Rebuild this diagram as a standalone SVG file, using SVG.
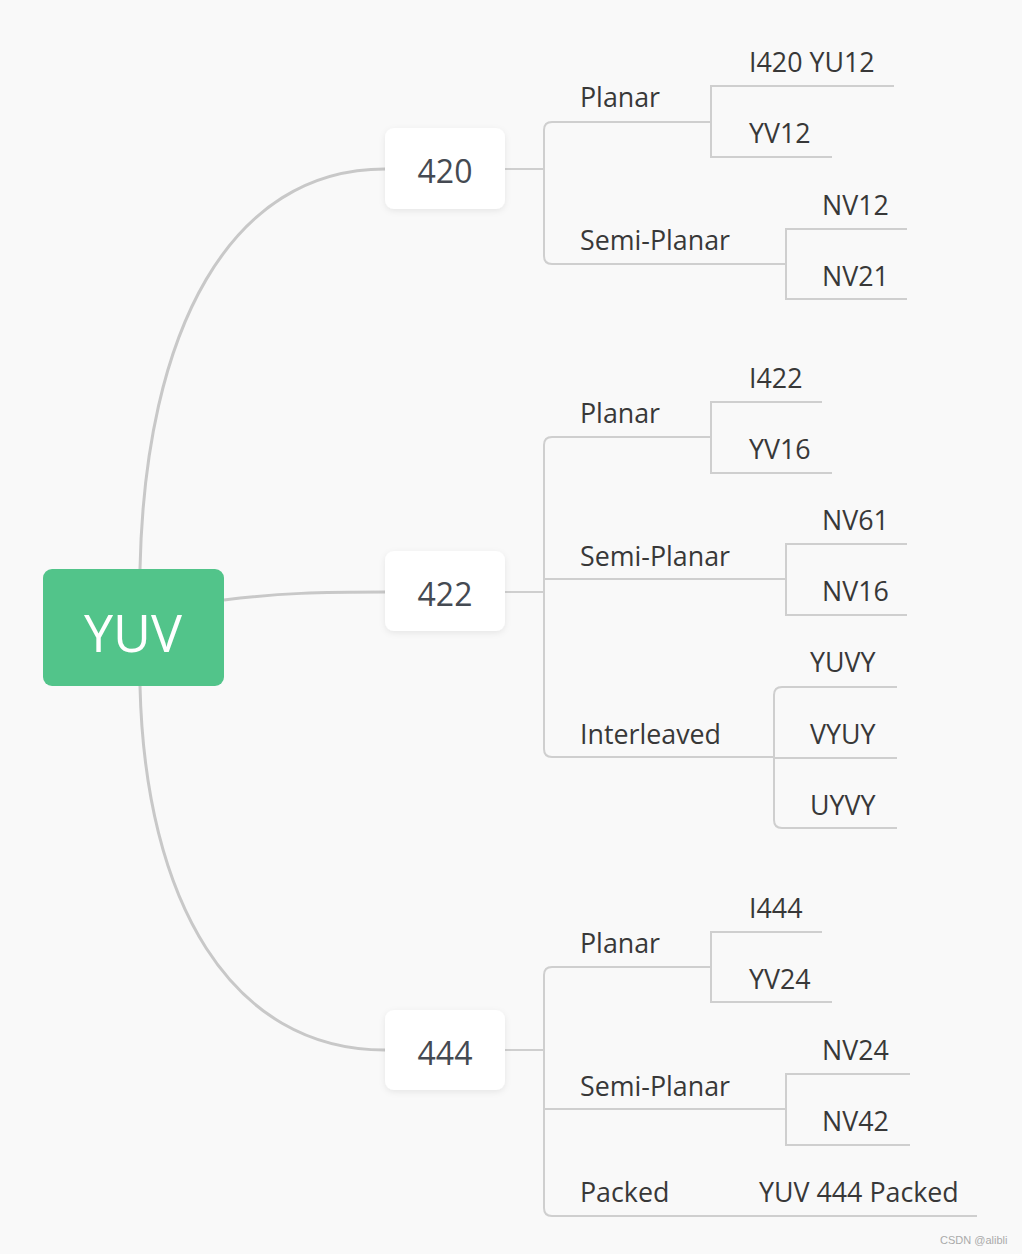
<svg xmlns="http://www.w3.org/2000/svg" width="1022" height="1254" viewBox="0 0 1022 1254">
<style>
.bg{fill:#f9f9f9}
.main{stroke:#c8c8c8;stroke-width:3;fill:none}
.br{stroke:#cfcfcf;stroke-width:2;fill:none}
.box{fill:#ffffff}
.root{fill:#52c48a}
.t{font-family:"Open Sans","Noto Sans",sans-serif;font-size:26.8px;fill:#383838}
.n{font-family:"Open Sans","Noto Sans",sans-serif;font-size:32px;fill:#454a52;text-anchor:middle}
.r{font-family:"Open Sans","Noto Sans",sans-serif;font-size:52px;fill:#ffffff;text-anchor:middle}
.wm{font-family:"Liberation Sans",sans-serif;font-size:11px;fill:#aaaaaa}
</style>
<defs>
<filter id="sh" x="-20%" y="-20%" width="140%" height="150%">
<feDropShadow dx="0" dy="2" stdDeviation="3" flood-color="#000" flood-opacity="0.08"/>
</filter>
</defs>
<rect class="bg" x="0" y="0" width="1022" height="1254"/>
<g id="connectors">
<path class="main" d="M140,569 C145,330 230,169 385,169"/>
<path class="main" d="M224,600 C280,593 320,592 385,592"/>
<path class="main" d="M140,686 C145,900 230,1050 385,1050"/>
<path class="br" d="M505,169 H544"/>
<path class="br" d="M711,122 H552 Q544,122 544,130 V256 Q544,264 552,264 H786"/>
<path class="br" d="M894,86 H711 V157 H832"/>
<path class="br" d="M907,229 H786 V299 H907"/>
<path class="br" d="M505,592 H544"/>
<path class="br" d="M711,437 H552 Q544,437 544,445 V749 Q544,757 552,757 H774"/>
<path class="br" d="M544,579 H786"/>
<path class="br" d="M822,402 H711 V473 H832"/>
<path class="br" d="M907,544 H786 V615 H907"/>
<path class="br" d="M897,687 H782 Q774,687 774,695 V820 Q774,828 782,828 H897"/>
<path class="br" d="M774,758 H897"/>
<path class="br" d="M505,1050 H544"/>
<path class="br" d="M711,967 H552 Q544,967 544,975 V1208 Q544,1216 552,1216 H977"/>
<path class="br" d="M544,1109 H786"/>
<path class="br" d="M822,932 H711 V1002 H832"/>
<path class="br" d="M910,1074 H786 V1145 H910"/>
</g>
<g id="node-yuv">
<rect class="root" x="43" y="569" width="181" height="117" rx="9"/>
<text class="r" x="133" y="652">YUV</text>
</g>
<g id="node-420">
<rect class="box" x="385" y="128" width="120" height="81" rx="9" filter="url(#sh)"/>
<text class="n" x="445" y="183">420</text>
</g>
<g id="node-422">
<rect class="box" x="385" y="551" width="120" height="80" rx="9" filter="url(#sh)"/>
<text class="n" x="445" y="606">422</text>
</g>
<g id="node-444">
<rect class="box" x="385" y="1010" width="120" height="80" rx="9" filter="url(#sh)"/>
<text class="n" x="445" y="1065">444</text>
</g>
<g id="node-420-planar"><text class="t" x="580" y="107">Planar</text></g>
<g id="node-i420"><text class="t" x="749" y="72">I420 YU12</text></g>
<g id="node-yv12"><text class="t" x="749" y="143">YV12</text></g>
<g id="node-420-semi"><text class="t" x="580" y="250">Semi-Planar</text></g>
<g id="node-nv12"><text class="t" x="822" y="215">NV12</text></g>
<g id="node-nv21"><text class="t" x="822" y="286">NV21</text></g>
<g id="node-422-planar"><text class="t" x="580" y="423">Planar</text></g>
<g id="node-i422"><text class="t" x="749" y="388">I422</text></g>
<g id="node-yv16"><text class="t" x="749" y="459">YV16</text></g>
<g id="node-422-semi"><text class="t" x="580" y="566">Semi-Planar</text></g>
<g id="node-nv61"><text class="t" x="822" y="530">NV61</text></g>
<g id="node-nv16"><text class="t" x="822" y="601">NV16</text></g>
<g id="node-422-inter"><text class="t" x="580" y="744">Interleaved</text></g>
<g id="node-yuvy"><text class="t" x="810" y="672">YUVY</text></g>
<g id="node-vyuy"><text class="t" x="810" y="744">VYUY</text></g>
<g id="node-uyvy"><text class="t" x="810" y="815">UYVY</text></g>
<g id="node-444-planar"><text class="t" x="580" y="953">Planar</text></g>
<g id="node-i444"><text class="t" x="749" y="918">I444</text></g>
<g id="node-yv24"><text class="t" x="749" y="989">YV24</text></g>
<g id="node-444-semi"><text class="t" x="580" y="1096">Semi-Planar</text></g>
<g id="node-nv24"><text class="t" x="822" y="1060">NV24</text></g>
<g id="node-nv42"><text class="t" x="822" y="1131">NV42</text></g>
<g id="node-444-packed"><text class="t" x="580" y="1202">Packed</text></g>
<g id="node-yuv444packed"><text class="t" x="759" y="1202">YUV 444 Packed</text></g>
<text class="wm" x="940" y="1244">CSDN @alibli</text>
</svg>
